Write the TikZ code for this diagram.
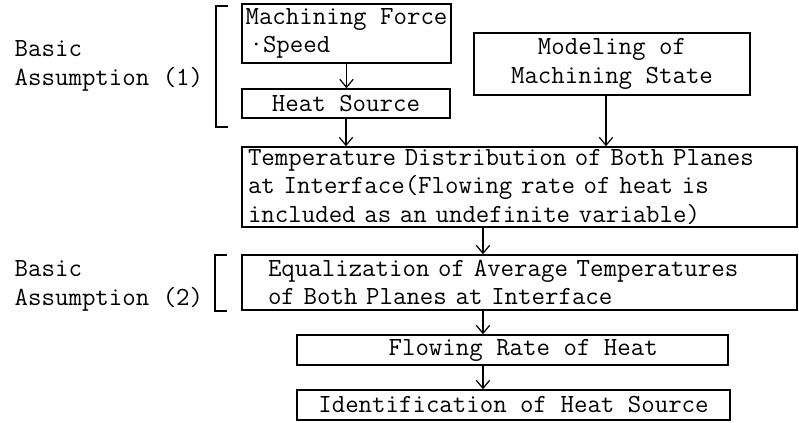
\documentclass[tikz,border=0pt]{standalone}
\usepackage{fontspec}
\usetikzlibrary{arrows.meta, positioning}

\begin{document}
\begin{tikzpicture}[x=0.75pt,y=0.75pt,yscale=-1,xscale=1,
  every node/.style={font=\ttfamily\fontsize{19.6}{21.4}\selectfont},
  box/.style={draw, line width=1.1pt, inner sep=0pt},
  flowarrow/.style={-{Straight Barb[length=6pt,width=10pt]}, line width=0.9pt}]
\useasboundingbox (0,0) rectangle (799,423);

%Shape: Rectangle
\node[box, minimum width=156.75pt, minimum height=44.25pt, align=left] (force) at (346.5,33.5) {Machining Force\\\hspace*{3pt}·Speed};
%Shape: Rectangle
\node[box, minimum width=156pt, minimum height=21.75pt] (heat) at (346,103.5) {Heat Source};
%Shape: Rectangle
\node[box, minimum width=207pt, minimum height=46.5pt, align=center] (model) at (612,64) {Modeling of\\Machining State};
%Shape: Rectangle
\node[box, text width=407.25pt, inner xsep=4.5pt, minimum height=60pt, align=left] (temp) at (519.5,187) {Temperature Distribution of Both Planes\\at Interface(Flowing rate of heat is\\included as an undefinite variable)};
%Shape: Rectangle
\node[box, text width=377.25pt, inner xsep=19.5pt, minimum height=41.25pt, align=left] (equal) at (519.5,282.5) {Equalization of Average Temperatures\\of Both Planes at Interface};
%Shape: Rectangle
\node[box, minimum width=323.25pt, minimum height=22.5pt] (rate) at (512.5,350) {\hspace*{16pt}Flowing Rate of Heat};
%Shape: Rectangle
\node[box, minimum width=324.75pt, minimum height=22.5pt] (ident) at (513.5,405) {Identification of Heat Source};

%Text
\node[anchor=west, align=left] (basic1) at (10,66) {Basic\\Assumption (1)};
\node[anchor=west, align=left] (basic2) at (10,286) {Basic\\Assumption (2)};

%Brackets
\draw[line width=1.1pt] (228,6) -- (216,6) -- (216,127) -- (228,127);
\draw[line width=1.1pt] (227,255) -- (215,255) -- (215,311) -- (227,311);

%Straight Lines
\coordinate (mcol) at (606,0);
\coordinate (spine) at (483,0);
\draw[flowarrow] (force.south) -- (force.south |- heat.north);
\draw[flowarrow] (heat.south) -- (heat.south |- temp.north);
\draw[flowarrow] (model.south -| mcol) -- (temp.north -| mcol);
\draw[flowarrow] (temp.south -| spine) -- (equal.north -| spine);
\draw[flowarrow] (equal.south -| spine) -- (rate.north -| spine);
\draw[flowarrow] (rate.south -| spine) -- (ident.north -| spine);

\end{tikzpicture}
\end{document}
